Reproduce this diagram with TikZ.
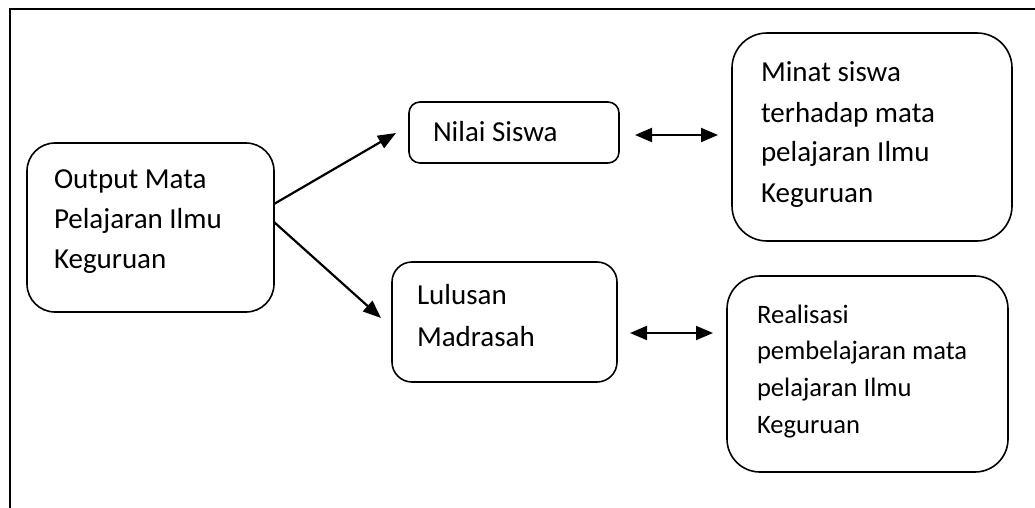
\documentclass[tikz,border=0pt]{standalone}
\usepackage{fontspec}
\setmainfont{Carlito}
\usetikzlibrary{arrows.meta}
\newcommand{\bigtxt}[1]{\fontsize{29}{40}\selectfont\begin{tabular}[t]{@{}l@{}}#1\end{tabular}}
\newcommand{\bigtxtb}[1]{\fontsize{29}{42}\selectfont\begin{tabular}[t]{@{}l@{}}#1\end{tabular}}
\newcommand{\smalltxt}[1]{\fontsize{26.6}{36.7}\selectfont\begin{tabular}[t]{@{}l@{}}#1\end{tabular}}
\begin{document}
\begin{tikzpicture}[x=1pt,y=-1pt,
  box/.style={draw, line width=1.6pt, inner sep=0pt, outer sep=0pt},
  txt/.style={anchor=base west, inner sep=0pt, outer sep=0pt},
  arr/.style={line width=2.2pt, -{Triangle[length=18pt,width=14pt]}},
  darr/.style={line width=2pt, {Triangle[length=17pt,width=14pt]}-{Triangle[length=17pt,width=14pt]}}]
\useasboundingbox (0,0) rectangle (1035,508);
% frame
\draw[line width=2.2pt] (10,508) -- (10,9) -- (1035,9);
% boxes
\node[box, rounded corners=28pt, minimum width=247pt, minimum height=169pt] (out) at (150.5,227.5) {};
\node[box, rounded corners=11pt, minimum width=210pt, minimum height=61pt] (nilai) at (514,132.5) {};
\node[box, rounded corners=20pt, minimum width=225pt, minimum height=120pt] (lulus) at (504.5,322) {};
\node[box, rounded corners=35pt, minimum width=280pt, minimum height=208pt] (minat) at (872,137) {};
\node[box, rounded corners=33pt, minimum width=281pt, minimum height=196pt] (real) at (867.5,374) {};
% texts
\node[txt] (outT) at (54,188) {\bigtxt{Output Mata\\Pelajaran Ilmu\\Keguruan}};
\node[txt] (nilaiT) at (433,142) {\bigtxt{Nilai Siswa}};
\node[txt] (lulusT) at (417,304) {\bigtxtb{Lulusan\\Madrasah}};
\node[txt] (minatT) at (761,82) {\bigtxt{Minat siswa\\terhadap mata\\pelajaran Ilmu\\Keguruan}};
\node[txt] (realT) at (757,323) {\smalltxt{Realisasi\\pembelajaran mata\\pelajaran Ilmu\\Keguruan}};
% connectors
\draw[arr] ([yshift=23.5pt]out.east) -- ([xshift=-13pt,yshift=-0.5pt]nilai.west);
\draw[arr] ([yshift=5.5pt]out.east) -- ([xshift=-11pt,yshift=4pt]lulus.west);
\draw[darr] ([xshift=16pt,yshift=-2.5pt]nilai.east) -- ([xshift=-14pt,yshift=2pt]minat.west);
\draw[darr] ([xshift=13pt,yshift=-11pt]lulus.east) -- ([xshift=-14pt,yshift=41pt]real.west);
\end{tikzpicture}
\end{document}
